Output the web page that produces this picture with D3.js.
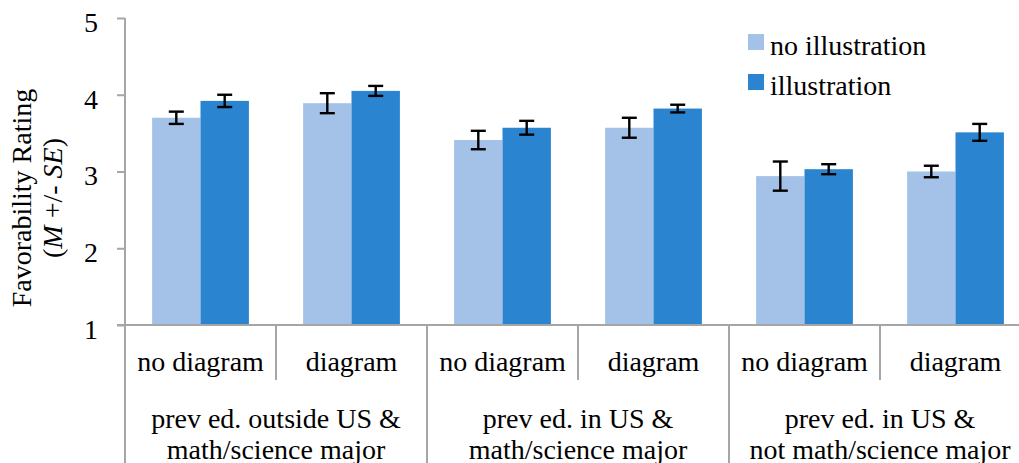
<!DOCTYPE html>
<html>
<head>
<meta charset="utf-8">
<script src="https://cdn.jsdelivr.net/npm/d3@7"></script>
<style>
  body { margin: 0; background: #fff; }
  svg { display: block; font-family: "Liberation Serif", "Times New Roman", serif; }
</style>
</head>
<body>
<div id="chart"></div>
<script>
// chart data
const outerGroups = [
  ["prev ed. outside US &", "math/science major"],
  ["prev ed. in US &", "math/science major"],
  ["prev ed. in US &", "not math/science major"]
];
const subGroups = ["no diagram", "diagram"];
const seriesNames = ["no illustration", "illustration"];
const noIllustrationMean = [3.70, 3.89, 3.41, 3.57, 2.94, 3.00];
const noIllustrationSE = [0.08, 0.13, 0.12, 0.13, 0.19, 0.075];
const illustrationMean = [3.92, 4.05, 3.57, 3.82, 3.03, 3.51];
const illustrationSE = [0.08, 0.065, 0.09, 0.05, 0.065, 0.11];
const yTicks = [1, 2, 3, 4, 5];

const width = 1019, height = 463;
const colors = ["#a4c2e8", "#2b84cf"];
const axisColor = "#a6a6a6";

// build cells: one per sub category
const cells = [];
outerGroups.forEach((g, gi) => {
  subGroups.forEach((s, si) => {
    const i = gi * subGroups.length + si;
    cells.push({
      key: i,
      label: s,
      values: [
        { series: seriesNames[0], mean: noIllustrationMean[i], se: noIllustrationSE[i] },
        { series: seriesNames[1], mean: illustrationMean[i], se: illustrationSE[i] }
      ]
    });
  });
});

const svg = d3.select("#chart").append("svg")
  .attr("width", width)
  .attr("height", height);

const x0 = d3.scaleBand()
  .domain(cells.map(d => d.key))
  .range([125, 1031])
  .padding(0);

const x1 = d3.scaleBand()
  .domain(seriesNames)
  .range([0, x0.bandwidth()])
  .paddingInner(0)
  .paddingOuter(0.56);

const y = d3.scaleLinear().domain([1, 5]).range([325, 18]);

const color = d3.scaleOrdinal().domain(seriesNames).range(colors);

// bars
const cellG = svg.selectAll(".cell")
  .data(cells)
  .join("g")
  .attr("class", "cell")
  .attr("transform", d => `translate(${x0(d.key)},0)`);

cellG.selectAll("rect")
  .data(d => d.values)
  .join("rect")
  .attr("x", d => x1(d.series))
  .attr("y", d => y(d.mean))
  .attr("width", x1.bandwidth())
  .attr("height", d => y(1) - y(d.mean))
  .attr("fill", d => color(d.series));

// error bars
const err = cellG.selectAll(".err")
  .data(d => d.values)
  .join("g")
  .attr("class", "err")
  .attr("stroke", "#000")
  .attr("stroke-width", 2.4);

err.append("line")
  .attr("x1", d => x1(d.series) + x1.bandwidth() / 2)
  .attr("x2", d => x1(d.series) + x1.bandwidth() / 2)
  .attr("y1", d => y(d.mean + d.se))
  .attr("y2", d => y(d.mean - d.se));
err.selectAll(".cap")
  .data(d => [d.mean + d.se, d.mean - d.se].map(v => ({ v, d })))
  .join("line")
  .attr("x1", e => x1(e.d.series) + x1.bandwidth() / 2 - 7.5)
  .attr("x2", e => x1(e.d.series) + x1.bandwidth() / 2 + 7.5)
  .attr("y1", e => y(e.v))
  .attr("y2", e => y(e.v));

// y axis
const yAxis = d3.axisLeft(y).tickValues(yTicks).tickSize(8).tickPadding(19).tickFormat(d3.format("d"));
const yg = svg.append("g")
  .attr("transform", "translate(125,0)")
  .call(yAxis);
yg.select(".domain").remove();
yg.selectAll(".tick line").attr("stroke", axisColor).attr("stroke-width", 2);
yg.selectAll(".tick text")
  .attr("font-size", 28)
  .attr("dy", "0.48em")
  .attr("font-family", "Liberation Serif, serif")
  .attr("fill", "#000");

svg.append("line")
  .attr("x1", 125).attr("x2", 125)
  .attr("y1", y(5)).attr("y2", height)
  .attr("stroke", axisColor).attr("stroke-width", 2);

// baseline
svg.append("line")
  .attr("x1", 117).attr("x2", width)
  .attr("y1", y(1)).attr("y2", y(1))
  .attr("stroke", axisColor).attr("stroke-width", 2);

// category separators
cells.forEach((c, i) => {
  if (i === 0) return;
  const isOuter = i % subGroups.length === 0;
  svg.append("line")
    .attr("x1", x0(c.key)).attr("x2", x0(c.key))
    .attr("y1", y(1)).attr("y2", isOuter ? height : 380)
    .attr("stroke", axisColor).attr("stroke-width", 2);
});

// sub category labels
svg.selectAll(".sublabel")
  .data(cells)
  .join("text")
  .attr("class", "sublabel")
  .attr("x", d => x0(d.key) + x0.bandwidth() / 2)
  .attr("y", 371)
  .attr("text-anchor", "middle")
  .attr("font-size", 28)
  .text(d => d.label);

// outer group labels
const outerText = svg.selectAll(".outerlabel")
  .data(outerGroups)
  .join("text")
  .attr("class", "outerlabel")
  .attr("text-anchor", "middle")
  .attr("font-size", 28);
outerText.selectAll("tspan")
  .data((d, i) => d.map(t => ({ t, i })))
  .join("tspan")
  .attr("x", e => x0(e.i * subGroups.length) + x0.bandwidth())
  .attr("y", (e, j) => 428 + j * 31)
  .text(e => e.t);

// y axis title
const yt = svg.append("text")
  .attr("transform", "translate(31,198) rotate(-90)")
  .attr("text-anchor", "middle")
  .attr("font-size", 28);
yt.append("tspan").attr("x", 0).attr("y", 0).text("Favorability Rating");
const l2 = yt.append("tspan").attr("x", 0).attr("y", 31);
l2.append("tspan").text("(");
l2.append("tspan").attr("font-style", "italic").text("M");
l2.append("tspan").text(" +/- ");
l2.append("tspan").attr("font-style", "italic").text("SE");
l2.append("tspan").text(")");

// legend
const legend = svg.selectAll(".legend")
  .data(seriesNames)
  .join("g")
  .attr("class", "legend")
  .attr("transform", (d, i) => `translate(748,${34 + i * 40})`);
legend.append("rect")
  .attr("width", 16).attr("height", 16)
  .attr("fill", d => color(d));
legend.append("text")
  .attr("x", 22).attr("y", 21)
  .attr("font-size", 28)
  .text(d => d);
</script>
</body>
</html>
